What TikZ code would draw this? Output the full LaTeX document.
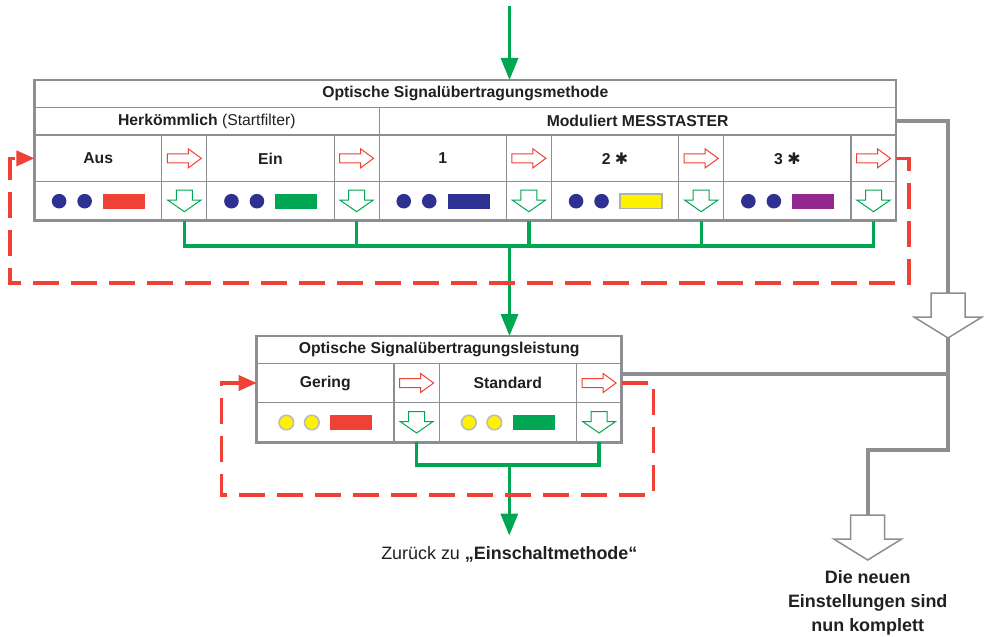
\documentclass[tikz,border=0pt]{standalone}
\usepackage{fontspec}
\setmainfont{Liberation Sans}
\newfontfamily\starfont{DejaVu Sans}
\usetikzlibrary{arrows.meta}
\usetikzlibrary{positioning}

\definecolor{tabgray}{RGB}{141,142,146}
\definecolor{sigred}{RGB}{239,65,54}
\definecolor{siggreen}{RGB}{0,166,81}
\definecolor{ledblue}{RGB}{46,49,146}
\definecolor{ledyellow}{RGB}{255,242,0}
\definecolor{ledpurple}{RGB}{146,39,143}
\definecolor{textdark}{RGB}{35,31,32}

\begin{document}
\begin{tikzpicture}[
    x=1bp, y=-1bp,
    every node/.style={font=\fontsize{15.8}{19}\selectfont\bfseries, text=textdark},
    cell/.style={rectangle, draw=tabgray, line width=1.2bp, inner sep=0pt, outer sep=0pt},
    valcell/.style={cell, minimum width=127.3bp},
    arrcell/.style={cell, minimum width=45bp},
    lvalcell/.style={cell, minimum width=137.3bp},
    larrcell/.style={cell, minimum width=45.2bp},
    labelrow/.style={minimum height=46.7bp},
    ledrow/.style={minimum height=39bp},
    outerframe/.style={draw=tabgray, line width=2.6bp},
    greenbus/.style={draw=siggreen, line width=3.4bp},
    greenarrow/.style={greenbus, -{Triangle[length=22bp,width=17bp]}},
    backloop/.style={draw=sigred, line width=3.4bp, dash pattern=on 26bp off 12bp, -{Triangle[length=18bp,width=15bp]}},
    grayline/.style={draw=tabgray, line width=4bp},
    endtext/.style={font=\fontsize{18}{24}\selectfont\bfseries, align=center},
    rarrow/.pic={\draw[draw=sigred, fill=white, line width=1bp] (-17,-4.5) -- (4,-4.5) -- (4,-9.5) -- (17,0) -- (4,9.5) -- (4,4.5) -- (-17,4.5) -- cycle;},
    darrow/.pic={\draw[draw=siggreen, fill=white, line width=1bp] (-8,-11) -- (8,-11) -- (8,-1) -- (16.5,-1) -- (0,10.5) -- (-16.5,-1) -- (-8,-1) -- cycle;},
    bigarrow/.pic={\draw[draw=tabgray, fill=white, line width=1.5bp] (-17,0) -- (17,0) -- (17,24) -- (34,24) -- (0,45) -- (-34,24) -- (-17,24) -- cycle;},
    dots/.pic={\path[pic actions] (-39,0) circle (7.3bp) (-13.5,0) circle (7.3bp);},
    bar/.pic={\path[pic actions] (5,-7.3) rectangle (47,7.3);}
]
\useasboundingbox (0,0) rectangle (984,637);

% Upper table
\node[cell, minimum width=861.5bp, minimum height=27.5bp, anchor=north west] (methode) at (34.5,80) {Optische Signalübertragungsmethode};
\node[cell, minimum width=344.6bp, minimum height=27.5bp, below right=0pt of methode.south west] (herk) {Herkömmlich {\mdseries(Startfilter)}};
\node[cell, minimum width=516.9bp, minimum height=27.5bp, right=0pt of herk] (modul) {Moduliert MESSTASTER};

\node[valcell, labelrow, below right=0pt of herk.south west] (aus) {Aus};
\node[arrcell, labelrow, right=0pt of aus] (ausR) {};
\node[valcell, labelrow, right=0pt of ausR] (ein) {Ein};
\node[arrcell, labelrow, right=0pt of ein] (einR) {};
\node[valcell, labelrow, right=0pt of einR] (one) {1};
\node[arrcell, labelrow, right=0pt of one] (oneR) {};
\node[valcell, labelrow, right=0pt of oneR] (two) {2 {\starfont\fontsize{16}{16}\selectfont ✱}};
\node[arrcell, labelrow, right=0pt of two] (twoR) {};
\node[valcell, labelrow, right=0pt of twoR] (three) {3 {\starfont\fontsize{16}{16}\selectfont ✱}};
\node[arrcell, labelrow, right=0pt of three] (threeR) {};

\node[valcell, ledrow, below right=0pt of aus.south west] (ausLed) {};
\node[arrcell, ledrow, right=0pt of ausLed] (ausDown) {};
\node[valcell, ledrow, right=0pt of ausDown] (einLed) {};
\node[arrcell, ledrow, right=0pt of einLed] (einDown) {};
\node[valcell, ledrow, right=0pt of einDown] (oneLed) {};
\node[arrcell, ledrow, right=0pt of oneLed] (oneDown) {};
\node[valcell, ledrow, right=0pt of oneDown] (twoLed) {};
\node[arrcell, ledrow, right=0pt of twoLed] (twoDown) {};
\node[valcell, ledrow, right=0pt of twoDown] (threeLed) {};
\node[arrcell, ledrow, right=0pt of threeLed] (threeDown) {};
\draw[outerframe] (methode.north west) rectangle (threeDown.south east);

% Lower table
\node[cell, minimum width=365bp, minimum height=27.3bp, anchor=north west] (leistung) at (256.7,336) {Optische Signalübertragungsleistung};
\node[lvalcell, minimum height=39.4bp, below right=0pt of leistung.south west] (gering) {Gering};
\node[larrcell, minimum height=39.4bp, right=0pt of gering] (gerR) {};
\node[lvalcell, minimum height=39.4bp, right=0pt of gerR] (standard) {Standard};
\node[larrcell, minimum height=39.4bp, right=0pt of standard] (stdR) {};
\node[lvalcell, minimum height=39.6bp, below right=0pt of gering.south west] (gerLed) {};
\node[larrcell, minimum height=39.6bp, right=0pt of gerLed] (gerDown) {};
\node[lvalcell, minimum height=39.6bp, right=0pt of gerDown] (stdLed) {};
\node[larrcell, minimum height=39.6bp, right=0pt of stdLed] (stdDown) {};
\draw[outerframe] (leistung.north west) rectangle (stdDown.south east);

% Cell symbols
\pic at (ausR) {rarrow};
\pic at (einR) {rarrow};
\pic at (oneR) {rarrow};
\pic at (twoR) {rarrow};
\pic at (threeR) {rarrow};
\pic at (gerR) {rarrow};
\pic at (stdR) {rarrow};
\pic at (ausDown) {darrow};
\pic at (einDown) {darrow};
\pic at (oneDown) {darrow};
\pic at (twoDown) {darrow};
\pic at (threeDown) {darrow};
\pic at (gerDown) {darrow};
\pic at (stdDown) {darrow};

\pic[fill=ledblue] at (ausLed) {dots};
\pic[fill=sigred] at (ausLed) {bar};
\pic[fill=ledblue] at (einLed) {dots};
\pic[fill=siggreen] at (einLed) {bar};
\pic[fill=ledblue] at (oneLed) {dots};
\pic[fill=ledblue] at (oneLed) {bar};
\pic[fill=ledblue] at (twoLed) {dots};
\pic[fill=ledyellow, draw=tabgray!70, line width=1.6bp] at (twoLed) {bar};
\pic[fill=ledblue] at (threeLed) {dots};
\pic[fill=ledpurple] at (threeLed) {bar};
\pic[fill=ledyellow, draw=tabgray!60, line width=1.6bp] at (gerLed) {dots};
\pic[fill=sigred] at (gerLed) {bar};
\pic[fill=ledyellow, draw=tabgray!60, line width=1.6bp] at (stdLed) {dots};
\pic[fill=siggreen] at (stdLed) {bar};

% Green flow
\coordinate (feed) at (509.5,6);
\draw[greenarrow] (feed) -- (feed |- methode.north);
\coordinate (topbus) at (509.5,246);
\draw[greenbus] (ausDown.south) |- (topbus) -| (threeDown.south);
\draw[greenbus] (einDown.south) -- (einDown.south |- topbus);
\draw[greenbus] (oneDown.south) -- (oneDown.south |- topbus);
\draw[greenbus] (twoDown.south) -- (twoDown.south |- topbus);
\draw[greenarrow] (topbus) -- (topbus |- leistung.north);

\coordinate (lowbus) at (509.3,465);
\draw[greenbus] (gerDown.south) |- (lowbus) -| (stdDown.south);
\node[font=\fontsize{18}{22}\selectfont] (zurueck) at (509.3,554) {Zurück zu \textbf{„Einschaltmethode“}};
\draw[greenarrow, shorten >=7bp] (lowbus) -- (lowbus |- zurueck.north);

% Red loops
\coordinate (loopNE) at (909,283);
\coordinate (loopSW) at (10,283);
\draw[backloop] (threeR.east) -| (loopNE) -- (loopSW) |- (aus.west);
\coordinate (lowNE) at (653.3,495);
\coordinate (lowSW) at (221.7,495);
\draw[backloop] (stdR.east) -| (lowNE) -- (lowSW) |- (gering.west);

% Gray exit
\coordinate (doneA) at (948,293);
\coordinate (doneTip) at (948,338);
\coordinate (doneBend) at (948,450);
\coordinate (doneB) at (867.7,515);
\draw[grayline] (modul.east) -| (doneA);
\draw[grayline] ([yshift=9bp]stdR.east) -- ([yshift=9bp]stdR.east -| doneTip);
\draw[grayline] (doneTip) -- (doneBend) -| (doneB);
\pic at (doneA) {bigarrow};
\pic at (doneB) {bigarrow};
\node[endtext] (done) at (867.7,603) {Die neuen\\Einstellungen sind\\nun komplett};

\end{tikzpicture}
\end{document}
